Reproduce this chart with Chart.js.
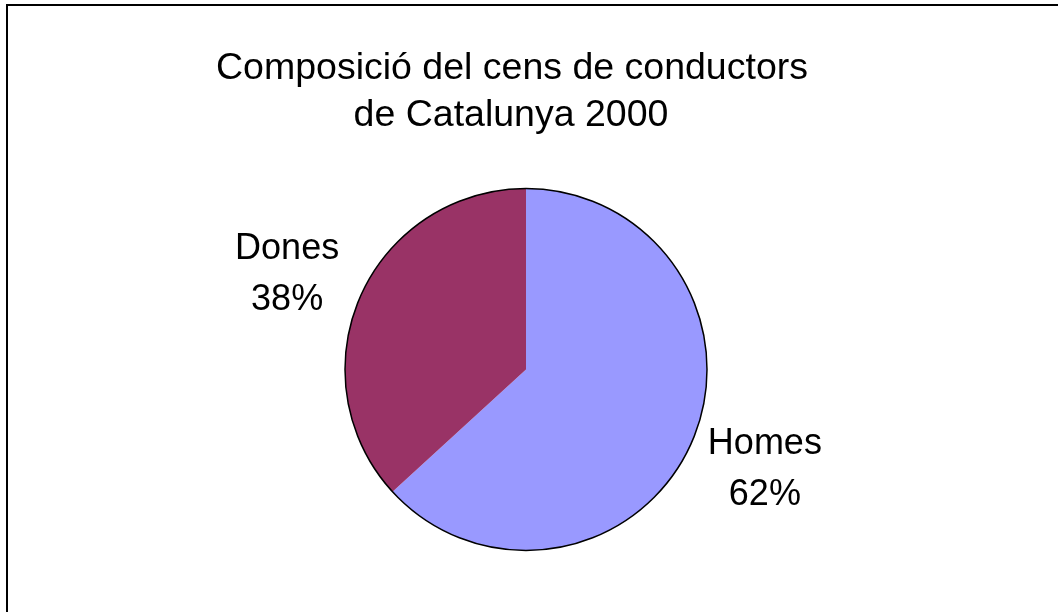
<!DOCTYPE html>
<html>
<head>
<meta charset="utf-8">
<script src="https://cdn.jsdelivr.net/npm/chart.js@4/dist/chart.umd.min.js"></script>
<style>
    html, body { margin: 0; padding: 0; background: #fff; overflow: hidden; }
    #wrap { position: relative; width: 1058px; height: 612px; }
    #frame {
        position: absolute; left: 6px; top: 4px; width: 1100px; height: 700px;
        border-top: 2px solid #000; border-left: 2px solid #000;
    }
    canvas { position: absolute; left: 0; top: 0; }
</style>
</head>
<body>
<div id="wrap">
    <div id="frame"></div>
    <canvas id="myChart" width="1058" height="612"></canvas>
</div>
<script>
const titleLines = ['Composició del cens de conductors', 'de Catalunya 2000'];
const categories = ['Homes', 'Dones'];
// slice sizes as drawn in the picture
const shares = [63.2, 36.8];
// percentages as printed on the labels
const percentLabels = ['62%', '38%'];
const sliceColors = ['#9999FF', '#993366'];

const fontFamily = '"Liberation Sans", Arial, sans-serif';

// title, outer outline and the category/percent labels
const piePlugin = {
    id: 'pieExtras',
    afterDatasetsDraw(chart) {
        const ctx = chart.ctx;
        const meta = chart.getDatasetMeta(0);
        const first = meta.data[0];

        ctx.save();
        // outer circle only, no radial lines between slices
        ctx.beginPath();
        ctx.arc(first.x, first.y, first.outerRadius, 0, Math.PI * 2);
        ctx.lineWidth = 1.5;
        ctx.strokeStyle = '#000';
        ctx.stroke();

        ctx.fillStyle = '#000';
        ctx.textAlign = 'center';
        ctx.textBaseline = 'alphabetic';

        ctx.font = '37.5px ' + fontFamily;
        ctx.fillText(titleLines[0], 512, 79);
        ctx.fillText(titleLines[1], 511, 126);

        ctx.font = '36px ' + fontFamily;
        meta.data.forEach((arc, i) => {
            const mid = (arc.startAngle + arc.endAngle) / 2;
            // labels sit on a slightly wider-than-tall ring outside the pie
            const cx = arc.x + Math.cos(mid) * (arc.outerRadius + 80);
            const cy = arc.y + Math.sin(mid) * (arc.outerRadius + 61);
            ctx.fillText(categories[i], cx, cy - 13);
            ctx.fillText(percentLabels[i], cx, cy + 38);
        });
        ctx.restore();
    }
};

const ctx = document.getElementById('myChart').getContext('2d');
const chart = new Chart(ctx, { //eslint-disable-line
    type: 'pie',
    data: {
        labels: categories,
        datasets: [{
            data: shares,
            backgroundColor: sliceColors,
            borderWidth: 0,
        }]
    },
    options: {
        responsive: false,
        animation: false,
        layout: {
            padding: { top: 188, bottom: 61, left: 345, right: 351 }
        },
        plugins: {
            legend: { display: false },
            title: { display: false },
            tooltip: { enabled: false }
        }
    },
    plugins: [piePlugin]
});
</script>
</body>
</html>
